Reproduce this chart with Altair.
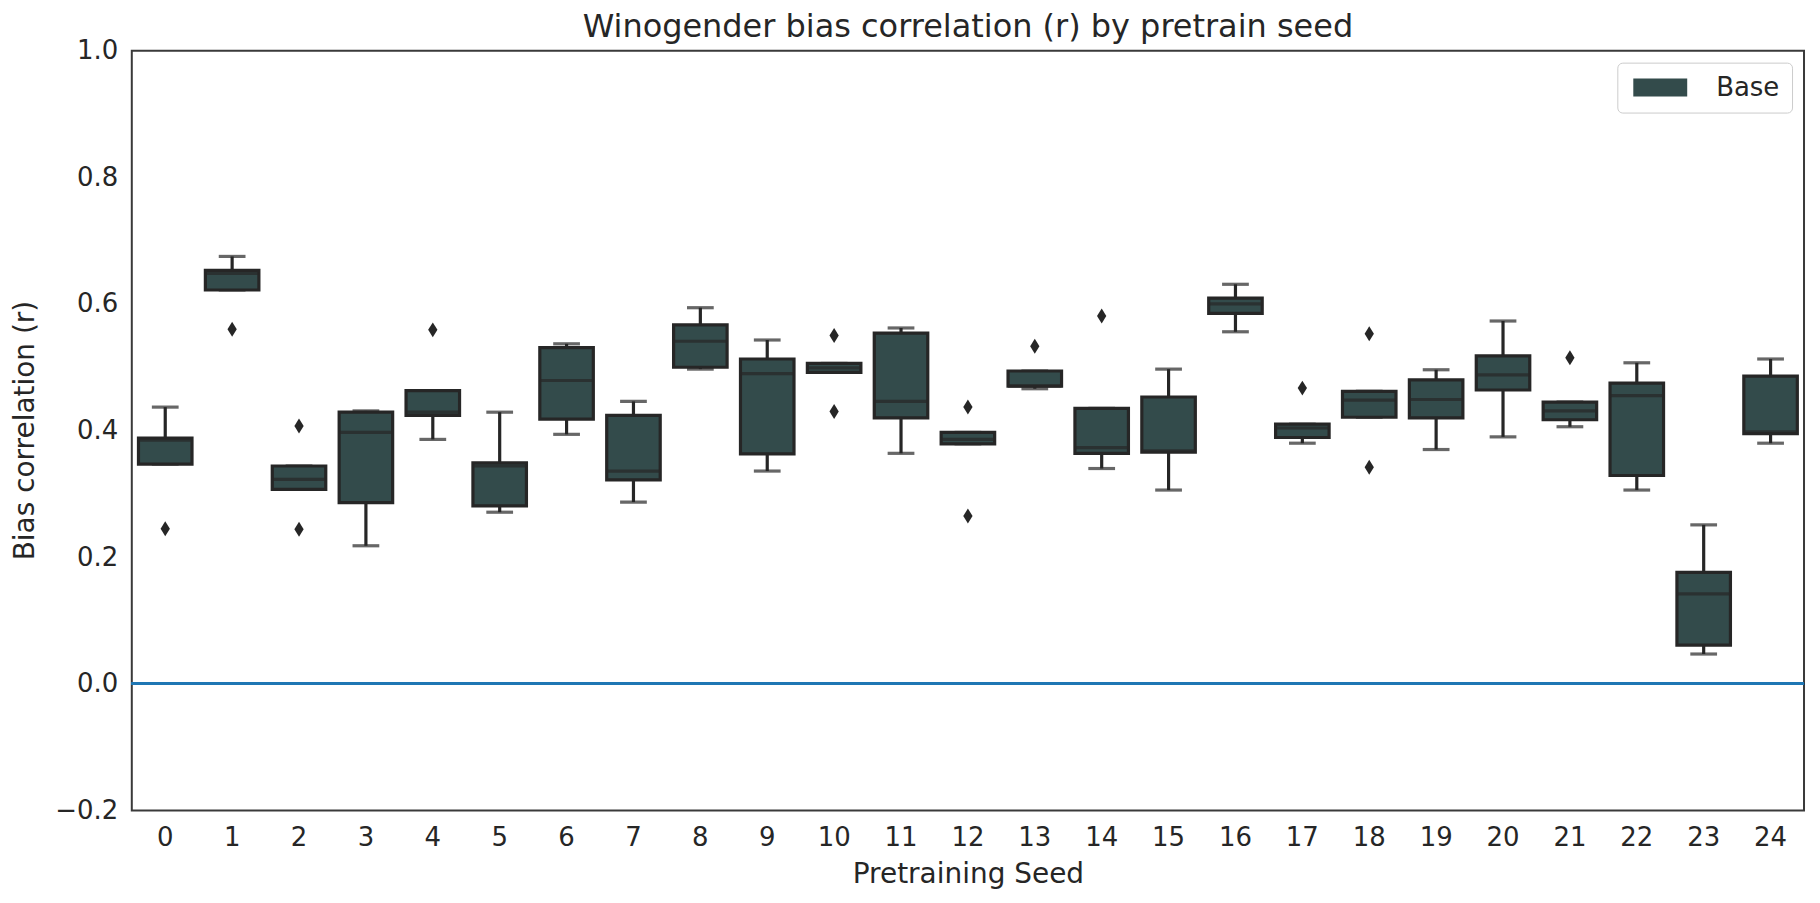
import altair as alt
import pandas as pd

# ---- data ----
seeds = list(range(25))
whislo = [0.347, 0.622, 0.307, 0.218, 0.386, 0.271, 0.394, 0.287, 0.497, 0.336,
          0.492, 0.364, 0.379, 0.466, 0.340, 0.306, 0.556, 0.380, 0.421, 0.370,
          0.390, 0.406, 0.306, 0.047, 0.380]
q1 = [0.347, 0.622, 0.307, 0.286, 0.424, 0.281, 0.418, 0.322, 0.500, 0.363,
      0.492, 0.420, 0.379, 0.470, 0.364, 0.366, 0.585, 0.389, 0.421, 0.420,
      0.464, 0.417, 0.329, 0.061, 0.395]
median = [0.385, 0.648, 0.323, 0.397, 0.429, 0.344, 0.479, 0.336, 0.541, 0.490,
          0.499, 0.446, 0.386, 0.470, 0.373, 0.368, 0.600, 0.404, 0.448, 0.449,
          0.488, 0.431, 0.455, 0.142, 0.398]
q3 = [0.388, 0.653, 0.344, 0.429, 0.463, 0.349, 0.531, 0.424, 0.567, 0.513,
      0.506, 0.554, 0.397, 0.494, 0.435, 0.453, 0.609, 0.410, 0.462, 0.480,
      0.518, 0.445, 0.475, 0.176, 0.486]
whishi = [0.437, 0.675, 0.344, 0.431, 0.463, 0.429, 0.537, 0.446, 0.594, 0.543,
          0.506, 0.562, 0.397, 0.494, 0.435, 0.497, 0.631, 0.410, 0.462, 0.496,
          0.573, 0.445, 0.507, 0.251, 0.513]
outlier_seed = [0, 1, 2, 2, 4, 10, 10, 12, 12, 13, 14, 17, 18, 18, 21]
outlier_value = [0.245, 0.560, 0.407, 0.244, 0.559, 0.550, 0.430, 0.437, 0.265,
                 0.533, 0.581, 0.467, 0.553, 0.342, 0.515]

FILL = "#334b4b"
EDGE = "#262626"
FONT = "DejaVu Sans"
TXT = "#262626"
LW = 3.2

df = pd.DataFrame({
    "seed": seeds, "whislo": whislo, "q1": q1, "median": median,
    "q3": q3, "whishi": whishi, "group": ["Base"] * len(seeds),
})
odf = pd.DataFrame({"seed": outlier_seed, "value": outlier_value})

xenc = alt.X(
    "seed:O",
    scale=alt.Scale(paddingInner=0, paddingOuter=0),
    axis=alt.Axis(
        title="Pretraining Seed", labelAngle=0, ticks=False, tickSize=0,
        domain=False, grid=False, labelPadding=14, labelFontSize=26,
        titleFontSize=28, titleFontWeight="normal", titleY=72,
        titleBaseline="alphabetic", labelColor=TXT, titleColor=TXT,
        labelFont=FONT, titleFont=FONT,
    ),
)
yscale = alt.Scale(domain=[-0.2, 1.0], nice=False, zero=False)
yaxis = alt.Axis(
    title="Bias correlation (r)", values=[-0.2, 0.0, 0.2, 0.4, 0.6, 0.8, 1.0],
    format=".1f", ticks=False, tickSize=0, domain=False, grid=False,
    labelPadding=14, labelFontSize=26, titleFontSize=28,
    titleFontWeight="normal", titleX=-106, titleY=380,
    titleBaseline="middle", labelColor=TXT, titleColor=TXT,
    labelFont=FONT, titleFont=FONT,
)

base = alt.Chart(df)

whisk = base.mark_rule(color=EDGE, strokeWidth=LW).encode(
    x=xenc, y=alt.Y("whislo:Q", scale=yscale, axis=yaxis), y2="whishi:Q"
)
caps_lo = base.mark_tick(color=EDGE, size=26.8, thickness=LW).encode(
    x=xenc, y=alt.Y("whislo:Q", scale=yscale, axis=yaxis)
)
caps_hi = base.mark_tick(color=EDGE, size=26.8, thickness=LW).encode(
    x=xenc, y=alt.Y("whishi:Q", scale=yscale, axis=yaxis)
)
boxes = base.mark_bar(
    width=alt.RelativeBandSize(0.8), stroke=EDGE, strokeWidth=LW, opacity=1
).encode(
    x=xenc,
    y=alt.Y("q1:Q", scale=yscale, axis=yaxis),
    y2="q3:Q",
    color=alt.Color(
        "group:N",
        scale=alt.Scale(domain=["Base"], range=[FILL]),
        legend=alt.Legend(
            title=None, orient="top-right", offset=12,
            symbolType="M-1,-1 L5,-1 L5,1 L-1,1 Z", symbolSize=324,
            symbolStrokeWidth=0, labelOffset=61, labelFontSize=26,
            labelFont=FONT, labelColor=TXT, padding=12,
            strokeColor="#cccccc", fillColor="white", cornerRadius=5,
        ),
    ),
)
meds = base.mark_tick(color=EDGE, size=53.6, thickness=LW).encode(
    x=xenc, y=alt.Y("median:Q", scale=yscale, axis=yaxis)
)
outs = alt.Chart(odf).mark_point(
    shape="M0,-1 L0.62,0 L0,1 L-0.62,0 Z", size=225, filled=True,
    color=EDGE, opacity=1,
).encode(x=xenc, y=alt.Y("value:Q", scale=yscale, axis=yaxis))

zero = alt.Chart(df).mark_rule(color="#1f77b4", strokeWidth=2.6).encode(
    y=alt.datum(0)
)

chart = alt.layer(whisk, caps_lo, caps_hi, boxes, meds, outs, zero).properties(
    width=1675,
    height=761,
    background="white",
    title=alt.TitleParams(
        "Winogender bias correlation (r) by pretrain seed",
        fontSize=32, font=FONT, fontWeight="normal", color=TXT,
        anchor="middle", offset=12, dy=18,
    ),
    autosize=alt.AutoSizeParams(type="none"),
    padding={"left": 124, "top": 42, "right": 8, "bottom": 85},
).configure_view(
    stroke="#3a3a3a", strokeWidth=2
)

chart.save("out.html", embed_options={"renderer": "svg", "actions": False})
